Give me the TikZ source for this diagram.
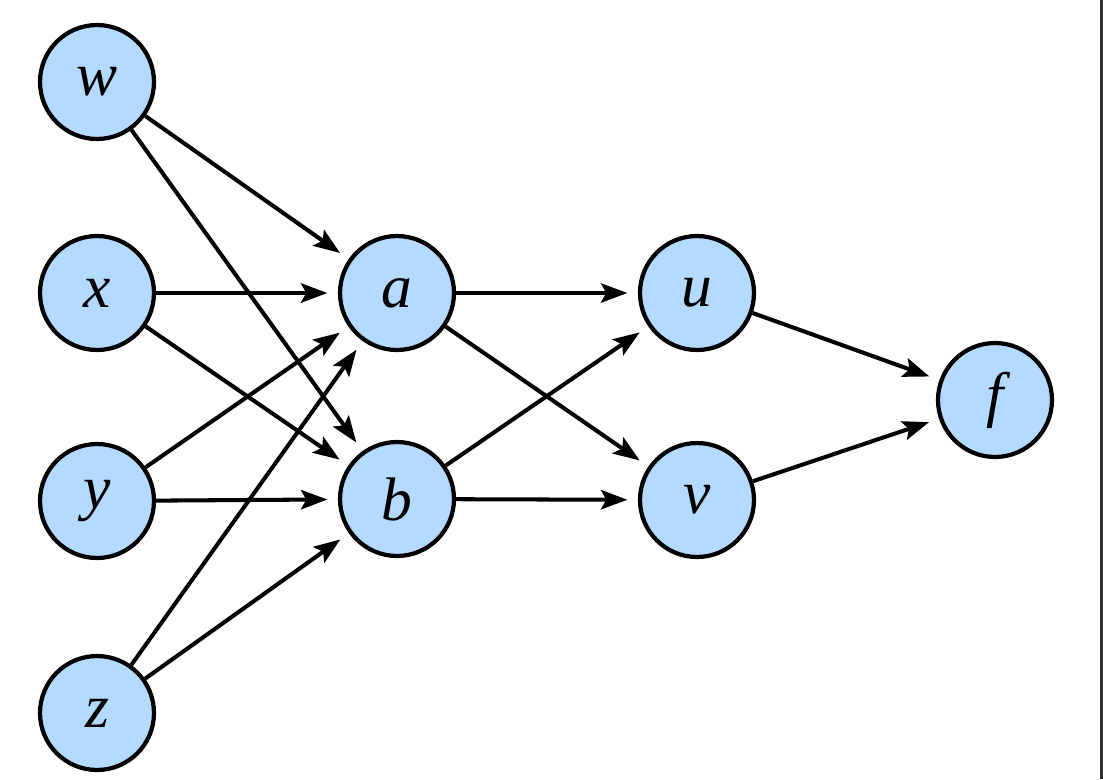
\documentclass[tikz,border=0pt]{standalone}
\usepackage{fontspec}
\setmainfont{Liberation Serif}
\usetikzlibrary{arrows.meta}
\definecolor{nodeblue}{RGB}{180,218,255}
\definecolor{edgegray}{RGB}{50,50,50}
\begin{document}
\begin{tikzpicture}[x=0.02cm,y=-0.02cm,
  var/.style={circle,draw=black,fill=nodeblue,line width=2.4pt,minimum size=2.28cm,inner sep=0pt,font=\fontsize{35}{40}\selectfont\itshape},
  link/.style={line width=2.3pt,-{Stealth[length=15pt,width=11pt,inset=3pt]},shorten >=6pt}
]
\useasboundingbox (0,0) rectangle (1103,779);
\fill[white] (0,0) rectangle (1103,779);
\draw[edgegray,line width=1.2pt] (1101.5,0) -- (1101.5,779);
\node[var] (w) at (97,82) {w};
\node[var] (x) at (97,293) {x};
\node[var] (y) at (97,501) {y};
\node[var] (z) at (97,713) {z};
\node[var] (a) at (397,293) {a};
\node[var] (b) at (397,499) {b};
\node[var] (u) at (697,293) {u};
\node[var] (v) at (697,500) {v};
\node[var] (f) at (995,400) {f};
\foreach \s in {w,x,y,z}{
  \draw[link] (\s) -- (a);
  \draw[link] (\s) -- (b);
}
\foreach \s in {a,b}{
  \draw[link] (\s) -- (u);
  \draw[link] (\s) -- (v);
}
\draw[link] (u) -- (f);
\draw[link] (v) -- (f);
\end{tikzpicture}
\end{document}
